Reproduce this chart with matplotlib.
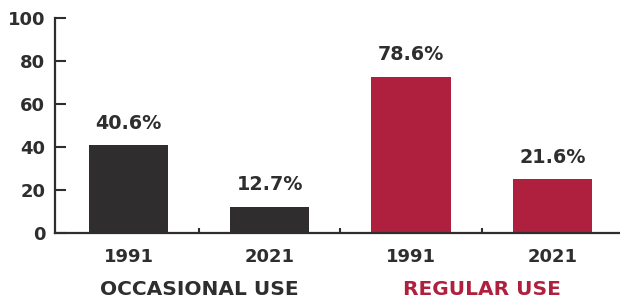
import matplotlib
matplotlib.use("Agg")
import matplotlib.pyplot as plt

# Data
groups = ["OCCASIONAL USE", "REGULAR USE"]
years = ["1991", "2021", "1991", "2021"]
bar_values = [40.9, 12.1, 72.6, 25.1]          # heights as drawn
value_labels = ["40.6%", "12.7%", "78.6%", "21.6%"]
yticks = [0, 20, 40, 60, 80, 100]

dark = "#2f2d2e"
red = "#ae203e"
bar_colors = [dark, dark, red, red]
group_colors = [dark, red]

plt.rcParams['font.family'] = ['DejaVu Sans']
fig = plt.figure(figsize=(6.2, 3.02), dpi=100)
ax = fig.add_axes([55/620, 69/302, 568/620, 215/302])

x = list(range(len(bar_values)))
ax.bar(x, bar_values, width=0.56, color=bar_colors, zorder=2)

for xi, v, lab in zip(x, bar_values, value_labels):
    ax.annotate(lab, (xi, v), xytext=(0, 9), textcoords="offset points",
                ha="center", va="bottom", fontsize=13.8, fontweight="bold",
                color=dark)

ax.set_xlim(-0.52, 3.48)
ax.set_ylim(0, 100)
ax.set_yticks(yticks)
ax.set_yticklabels([str(t) for t in yticks], fontsize=13, fontweight="bold", color=dark)
ax.set_xticks(x)
ax.set_xticklabels(years, fontsize=13, fontweight="bold", color=dark)
ax.set_xticks([0.5, 1.5, 2.5, 3.5], minor=True)

for s in ["top", "right"]:
    ax.spines[s].set_visible(False)
for s in ["left", "bottom"]:
    ax.spines[s].set_color(dark)
    ax.spines[s].set_linewidth(1.6)

ax.tick_params(axis="y", direction="in", length=8, width=1.5, color=dark, pad=7)
ax.tick_params(axis="x", which="major", length=0, pad=11)
ax.tick_params(axis="x", which="minor", direction="in", length=3.5, width=1.5, color=dark)

# group labels
for gi, (g, c) in enumerate(zip(groups, group_colors)):
    ax.text(0.5 + 2 * gi, -26.5, g, ha="center", va="center", fontsize=14.5,
            fontweight="bold", color=c, clip_on=False)

fig.savefig("out.png", dpi=100)
